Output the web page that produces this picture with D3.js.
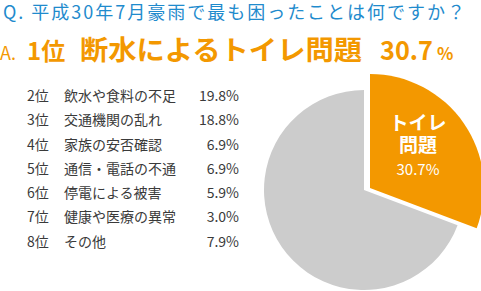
<!DOCTYPE html>
<html>
<head>
<meta charset="utf-8">
<script src="https://cdn.jsdelivr.net/npm/d3@7"></script>
<style>
  body { margin: 0; background: #fff; }
  text { font-family: "Noto Sans CJK JP", "Noto Sans", sans-serif; }
</style>
</head>
<body>
<div id="container"></div>
<script>
let w = 481;
let h = 291;

// data
let question = "Q. 平成30年7月豪雨で最も困ったことは何ですか？";
let topRank = "1位";
let topLabel = "断水によるトイレ問題";
let topSliceLines = ["トイレ", "問題"];
let topValue = 30.7;

let ranks = ["2位", "3位", "4位", "5位", "6位", "7位", "8位"];
let items = ["飲水や食料の不足", "交通機関の乱れ", "家族の安否確認", "通信・電話の不通", "停電による被害", "健康や医療の異常", "その他"];
let values = [19.8, 18.8, 6.9, 6.9, 5.9, 3.0, 7.9];

let blue = "#1f8bcd";
let orange = "#f39800";
let grey = "#cccccc";
let textColor = "#3a3a3a";

let viz = d3.select("#container")
  .append("svg")
  .attr("width", w)
  .attr("height", h);

// title line
viz.append("text")
  .attr("x", 3)
  .attr("y", 19)
  .attr("font-size", 18)
  .attr("fill", blue)
  .attr("textLength", 462)
  .attr("lengthAdjust", "spacing")
  .text(question);

// answer line
let answer = viz.append("g").attr("fill", orange);
answer.append("text")
  .attr("x", 0).attr("y", 60)
  .attr("font-size", 18)
  .text("A.");
answer.append("text")
  .attr("x", 27).attr("y", 60)
  .attr("font-size", 24)
  .attr("font-weight", "bold")
  .text(topRank);
answer.append("text")
  .attr("x", 80).attr("y", 60)
  .attr("font-size", 27)
  .attr("font-weight", "bold")
  .attr("textLength", 282)
  .attr("lengthAdjust", "spacingAndGlyphs")
  .text(topLabel);
answer.append("text")
  .attr("x", 380).attr("y", 60)
  .attr("font-size", 26)
  .attr("font-weight", "bold")
  .attr("textLength", 53)
  .attr("lengthAdjust", "spacingAndGlyphs")
  .text(d3.format(".1f")(topValue));
answer.append("text")
  .attr("x", 437).attr("y", 60)
  .attr("font-size", 17)
  .attr("font-weight", "bold")
  .text("%");

// list of other answers
let yScale = d3.scalePoint().domain(ranks).range([101, 246.5]);

let rows = viz.append("g").attr("class", "rows")
  .selectAll("g")
  .data(ranks)
  .enter()
  .append("g")
  .attr("transform", d => "translate(0," + yScale(d) + ")")
  .attr("font-size", 14)
  .attr("fill", textColor);

rows.append("text")
  .attr("x", 27)
  .text(d => d);
rows.append("text")
  .attr("x", 64)
  .text((d, i) => items[i]);
rows.append("text")
  .attr("x", 239)
  .attr("text-anchor", "end")
  .text((d, i) => d3.format(".1f")(values[i]) + "%");

// pie
let pieData = d3.pie().sort(null)([topValue, d3.sum(values)]);
let cx = 364;
let cy = 190;

let greyArc = d3.arc().innerRadius(0).outerRadius(100);
let orangeArc = d3.arc().innerRadius(0).outerRadius(114);

let pieGroup = viz.append("g")
  .attr("transform", "translate(" + cx + "," + cy + ")");

pieGroup.append("path")
  .attr("d", greyArc(pieData[1]))
  .attr("fill", grey);

let topSlice = pieGroup.append("g")
  .attr("transform", "translate(6,-2)");
topSlice.append("path")
  .attr("d", orangeArc(pieData[0]))
  .attr("fill", orange);

let labelGroup = topSlice.append("g")
  .attr("fill", "#fff")
  .attr("text-anchor", "middle");
labelGroup.selectAll(".slicelabel")
  .data(topSliceLines)
  .enter()
  .append("text")
  .attr("class", "slicelabel")
  .attr("x", 48)
  .attr("y", (d, i) => -58 + i * 22)
  .attr("font-size", 19)
  .attr("font-weight", "bold")
  .text(d => d);
labelGroup.append("text")
  .attr("x", 48)
  .attr("y", -13)
  .attr("font-size", 15)
  .text(d3.format(".1f")(topValue) + "%");
</script>
</body>
</html>
